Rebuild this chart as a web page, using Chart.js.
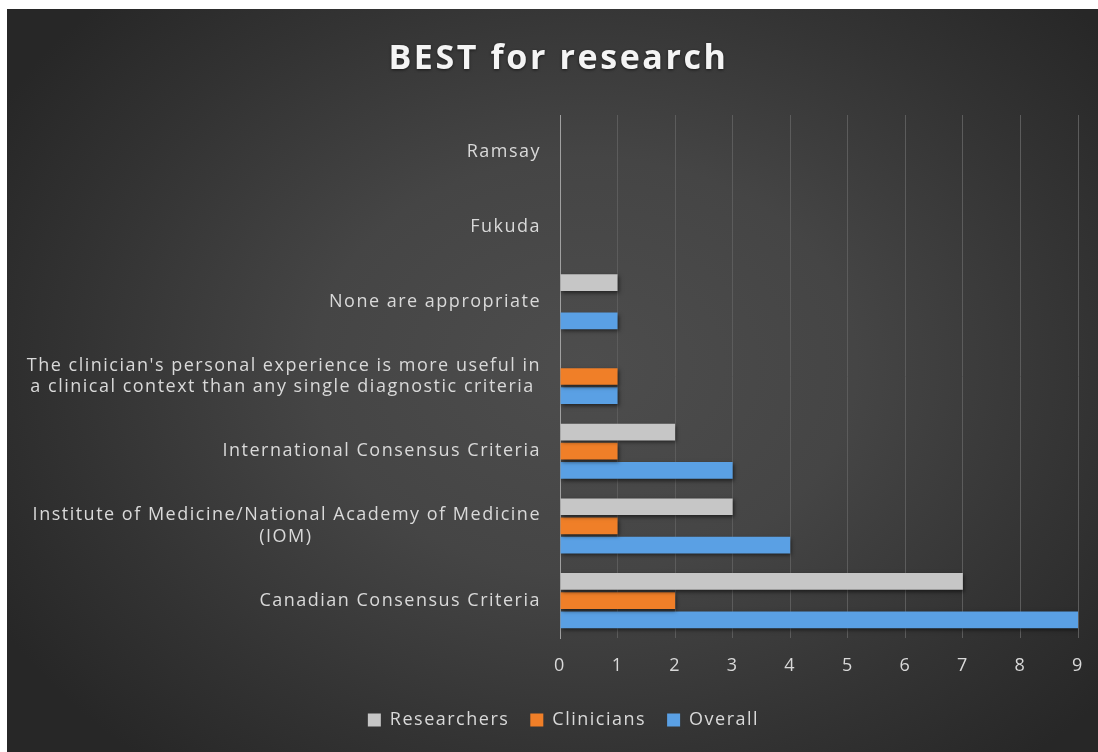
<!DOCTYPE html>
<html><head><meta charset="utf-8">
<script src="https://cdn.jsdelivr.net/npm/chart.js@4/dist/chart.umd.min.js"></script>
<style>
html,body{margin:0;padding:0;background:#fff;}
#wrap{position:absolute;left:7px;top:9px;width:1091px;height:743px;
background:radial-gradient(ellipse 62% 70% at 53% 48%, #4d4d4d 0%, #454545 40%, #333333 75%, #272727 100%);}
canvas{display:block}
</style></head><body>
<div id="wrap"><canvas id="c" width="1091" height="743"></canvas></div>
<script>
const categories = [
  ["Ramsay"],
  ["Fukuda"],
  ["None are appropriate"],
  ["The clinician's personal experience is more useful in", "a clinical context than any single diagnostic criteria"],
  ["International Consensus Criteria"],
  ["Institute of Medicine/National Academy of Medicine", "(IOM)"],
  ["Canadian Consensus Criteria"]
];
const seriesNames = ["Researchers", "Clinicians", "Overall"];
const researchers = [0, 0, 1, 0, 2, 3, 7];
const clinicians  = [0, 0, 0, 1, 1, 1, 2];
const overall     = [0, 0, 1, 1, 3, 4, 9];
const xTickValues = [0, 1, 2, 3, 4, 5, 6, 7, 8, 9];

const FONT = "'Open Sans', 'DejaVu Sans', sans-serif";
const LABEL_SIZE = 18;
const TEXT_SPACING = '1.5px';
const TITLE_SPACING = '2.6px';

const mctx = document.createElement('canvas').getContext('2d');
mctx.font = LABEL_SIZE + "px " + FONT;
mctx.letterSpacing = TEXT_SPACING;
function centerLines(lines) {
  if (!Array.isArray(lines) || lines.length < 2) return lines;
  const widths = lines.map(l => mctx.measureText(l).width);
  const maxW = Math.max(...widths);
  const sp = mctx.measureText(' ').width;
  return lines.map((l, i) => l + ' '.repeat(Math.round((maxW - widths[i]) / 2 / sp)));
}

const spacingPlugin = {
  id: 'textSpacing',
  beforeUpdate(chart) { chart.ctx.letterSpacing = TEXT_SPACING; },
  beforeLayout(chart) { chart.ctx.letterSpacing = TEXT_SPACING; },
  beforeDraw(chart) { chart.ctx.letterSpacing = TEXT_SPACING; },
  afterLayout(chart) {
    const tb = chart.titleBlock;
    if (tb && !tb._wrapped) {
      const orig = tb.draw.bind(tb);
      tb.draw = function () {
        const c = chart.ctx; c.save(); c.letterSpacing = TITLE_SPACING;
        c.shadowColor = 'rgba(0,0,0,0.6)'; c.shadowBlur = 3; c.shadowOffsetY = 1;
        orig(); c.restore();
      };
      tb._wrapped = true;
    }
    const lg = chart.legend;
    if (lg && !lg._wrapped) {
      const origL = lg.draw.bind(lg);
      lg.draw = function () {
        const c = chart.ctx; c.save(); c.translate(5, 0); origL(); c.restore();
      };
      lg._wrapped = true;
    }
  }
};

const shadowPlugin = {
  id: 'barShadow',
  beforeDatasetsDraw(chart) {
    const c = chart.ctx; c.save();
    c.shadowColor = 'rgba(0,0,0,0.55)'; c.shadowBlur = 4; c.shadowOffsetY = 2; c.shadowOffsetX = 1;
  },
  afterDatasetsDraw(chart) { chart.ctx.restore(); }
};

new Chart(document.getElementById('c'), {
  type: 'bar',
  data: {
    labels: categories,
    datasets: [
      { label: seriesNames[0], data: researchers, backgroundColor: '#c6c6c6' },
      { label: seriesNames[1], data: clinicians,  backgroundColor: '#f07f28' },
      { label: seriesNames[2], data: overall,     backgroundColor: '#5aa0e4' }
    ]
  },
  plugins: [spacingPlugin, shadowPlugin],
  options: {
    indexAxis: 'y',
    responsive: false,
    animation: false,
    datasets: { bar: { categoryPercentage: 0.77, barPercentage: 0.87 } },
    layout: { padding: { left: 32, right: 20, top: 0, bottom: 13 } },
    scales: {
      y: {
        grid: { display: false, drawTicks: false },
        border: { display: true, color: '#a0a0a0', width: 1 },
        afterFit(scale) {
          scale.width = 521;
          scale._computeLabelArea = () => undefined;
        },
        ticks: {
          color: '#d9d9d9', padding: 19,
          font: { family: FONT, size: LABEL_SIZE },
          callback(value) { return centerLines(categories[value]); }
        }
      },
      x: {
        min: 0, max: 9,
        afterFit(scale) { scale.height = 52; scale.paddingRight = 0; scale.paddingLeft = 0; },
        afterBuildTicks(scale) { scale.ticks = xTickValues.map(v => ({ value: v })); },
        grid: { color: '#5c5c5c', drawTicks: false },
        border: { display: false },
        ticks: { color: '#d9d9d9', padding: 17, font: { family: FONT, size: LABEL_SIZE } }
      }
    },
    plugins: {
      title: {
        display: true, text: 'BEST for research', color: '#f4f4f4',
        font: { family: FONT, size: 34, weight: 'bold' },
        padding: { top: 30, bottom: 35.2 }
      },
      legend: {
        position: 'bottom',
        labels: {
          color: '#d9d9d9', boxWidth: 13, boxHeight: 13, padding: 21,
          font: { family: FONT, size: LABEL_SIZE }
        }
      },
      tooltip: { enabled: false }
    }
  }
});
</script>
</body></html>
